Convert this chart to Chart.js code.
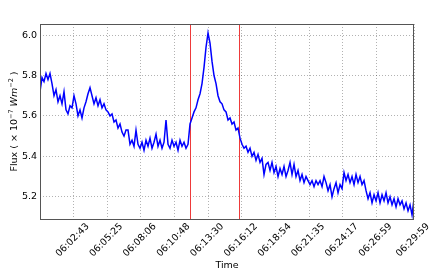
<!DOCTYPE html>
<html><head><meta charset="utf-8">
<script src="https://cdn.jsdelivr.net/npm/chart.js@4.4.1/dist/chart.umd.min.js"></script>
<style>html,body{margin:0;padding:0;background:#fff;}</style>
</head><body>
<canvas id="c" width="439" height="274"></canvas>
<script>
// ---- data ----
const startTime = '06:00:01';        // first sample
const cadenceSeconds = 9.616;         // sample spacing
const flux = [
5.72,5.79,5.77,5.81,5.78,5.81,5.76,5.70,5.73,5.67,5.70,5.66,5.72,5.63,5.61,5.65,5.64,5.70,5.66,5.60,
5.63,5.59,5.64,5.67,5.71,5.74,5.70,5.66,5.69,5.65,5.68,5.64,5.66,5.63,5.62,5.60,5.61,5.57,5.58,5.54,
5.56,5.52,5.50,5.53,5.53,5.46,5.48,5.45,5.53,5.46,5.44,5.47,5.43,5.48,5.45,5.49,5.44,5.47,5.51,5.45,
5.48,5.44,5.47,5.58,5.46,5.44,5.48,5.45,5.47,5.43,5.48,5.45,5.47,5.44,5.46,5.56,5.59,5.62,5.64,5.68,
5.71,5.76,5.84,5.94,6.01,5.96,5.87,5.80,5.76,5.70,5.67,5.66,5.63,5.62,5.58,5.59,5.56,5.57,5.53,5.54,
5.49,5.46,5.44,5.45,5.42,5.44,5.40,5.42,5.38,5.41,5.37,5.39,5.31,5.36,5.37,5.33,5.37,5.32,5.35,5.30,
5.34,5.31,5.35,5.30,5.33,5.37,5.31,5.36,5.30,5.33,5.28,5.31,5.27,5.30,5.28,5.26,5.28,5.25,5.28,5.26,
5.28,5.25,5.30,5.27,5.23,5.26,5.20,5.24,5.27,5.22,5.26,5.24,5.32,5.28,5.31,5.27,5.30,5.26,5.31,5.27,
5.30,5.26,5.28,5.23,5.19,5.22,5.17,5.21,5.18,5.22,5.17,5.21,5.18,5.22,5.17,5.20,5.16,5.19,5.15,5.19,
5.16,5.18,5.14,5.17,5.13,5.16,5.11,5.19
];
const xTickLabels = ['06:02:43','06:05:25','06:08:06','06:10:48','06:13:30','06:16:12',
                     '06:18:54','06:21:35','06:24:17','06:26:59','06:29:59'];
const yTickValues = [5.2, 5.4, 5.6, 5.8, 6.0];
const markerTimes = ['06:12:00', '06:16:00'];
const xRange = ['06:00:01', '06:29:59'];
const yRange = [5.09, 6.055];

// ---- helpers ----
const toSec = s => { const p = s.split(':').map(Number); return (p[0]-6)*3600 + p[1]*60 + p[2]; };
const t0 = toSec(startTime);
const points = flux.map((v, i) => ({ x: t0 + i * cadenceSeconds, y: v }));
const FONT = '"DejaVu Sans", sans-serif';

const frame = {
  id: 'frame',
  beforeDatasetsDraw(chart) {
    const { ctx, chartArea: a, scales } = chart;
    ctx.save();
    ctx.strokeStyle = '#ee3a3a';
    ctx.lineWidth = 1;
    markerTimes.forEach(t => {
      const px = Math.round(scales.x.getPixelForValue(toSec(t))) + 0.5;
      ctx.beginPath(); ctx.moveTo(px, a.top); ctx.lineTo(px, a.bottom); ctx.stroke();
    });
    ctx.restore();
  },
  afterDraw(chart) {
    const { ctx, chartArea: a } = chart;
    ctx.save();
    ctx.strokeStyle = '#555';
    ctx.lineWidth = 1;
    ctx.strokeRect(Math.round(a.left) + 0.5, Math.round(a.top) + 0.5,
                   Math.round(a.right - a.left) - 1, Math.round(a.bottom - a.top));
    // y title with superscripts
    const fs = 9.5, ss = 6.5;
    const parts = [
      { t: 'Flux ( \u00d7 10', f: `${fs}px ${FONT}`, dy: 0 },
      { t: '\u22127', f: `${ss}px ${FONT}`, dy: -3.5 },
      { t: ' ', f: `${fs}px ${FONT}`, dy: 0 },
      { t: 'Wm', f: `italic ${fs}px ${FONT}`, dy: 0 },
      { t: '\u22122', f: `${ss}px ${FONT}`, dy: -3.5 },
      { t: ' )', f: `${fs}px ${FONT}`, dy: 0 }
    ];
    let total = 0;
    parts.forEach(p => { ctx.font = p.f; p.w = ctx.measureText(p.t).width; total += p.w; });
    ctx.translate(15, (a.top + a.bottom) / 2);
    ctx.rotate(-Math.PI / 2);
    ctx.fillStyle = '#000';
    ctx.textBaseline = 'middle';
    ctx.textAlign = 'left';
    let x = -total / 2;
    parts.forEach(p => { ctx.font = p.f; ctx.fillText(p.t, x, p.dy); x += p.w; });
    ctx.restore();
  }
};

const gridOpts = { color: 'rgba(0,0,0,0.3)', drawTicks: false, lineWidth: 1 };

new Chart(document.getElementById('c'), {
  type: 'line',
  data: {
    datasets: [{
      data: points,
      borderColor: '#0000ff',
      borderWidth: 1.5,
      pointRadius: 0,
      tension: 0,
      fill: false
    }]
  },
  options: {
    responsive: false,
    animation: false,
    devicePixelRatio: 1,
    layout: { padding: { top: 24, right: 25, left: 0, bottom: 0 } },
    plugins: { legend: { display: false }, tooltip: { enabled: false } },
    scales: {
      x: {
        type: 'linear',
        min: toSec(xRange[0]),
        max: toSec(xRange[1]),
        afterBuildTicks: s => { s.ticks = xTickLabels.map(l => ({ value: toSec(l), label: l })); },
        afterFit: s => { s.height = 55; },
        ticks: {
          autoSkip: false,
          maxRotation: 45, minRotation: 45,
          padding: 2,
          labelOffset: 14,
          color: '#000',
          font: { family: FONT, size: 9.5 },
          callback: (v, i, ticks) => ticks[i].label
        },
        grid: gridOpts,
        border: { display: false, dash: [1, 2] },
        title: { display: true, text: 'Time', color: '#000', font: { family: FONT, size: 9.5 }, padding: { top: 0, bottom: 3 } }
      },
      y: {
        min: yRange[0],
        max: yRange[1],
        afterBuildTicks: s => { s.ticks = yTickValues.map(v => ({ value: v })); },
        afterFit: s => { s.width = 40; },
        ticks: {
          padding: 3,
          color: '#000',
          font: { family: FONT, size: 9.5 },
          callback: v => Number(v).toFixed(1)
        },
        grid: gridOpts,
        border: { display: false, dash: [1, 2] }
      }
    }
  },
  plugins: [frame]
});
</script>
</body></html>
